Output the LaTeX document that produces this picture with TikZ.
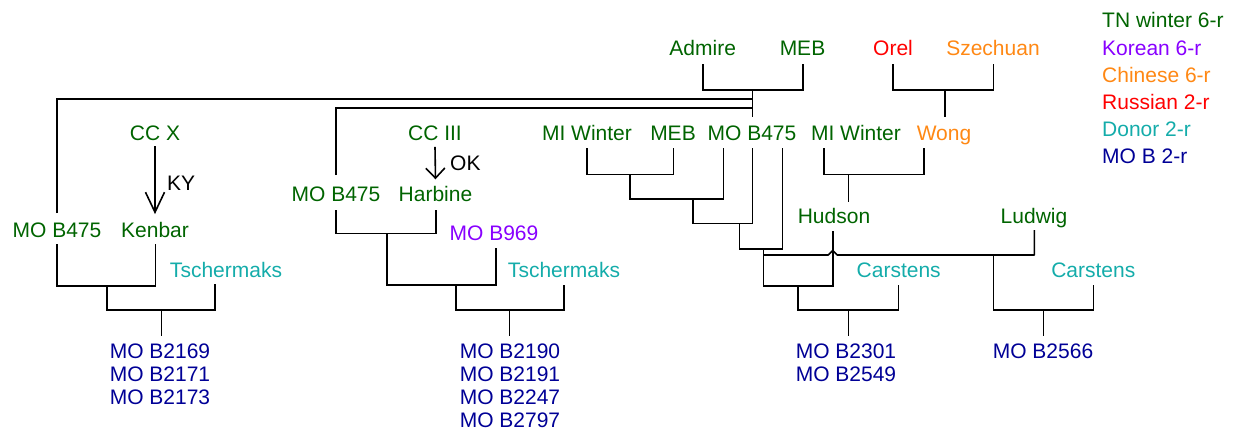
\documentclass[tikz,border=0pt]{standalone}
\usepackage{fontspec}
\setmainfont{Liberation Sans}
\usetikzlibrary{arrows.meta}
\definecolor{tn}{RGB}{0,100,0}
\definecolor{kor}{RGB}{136,0,255}
\definecolor{chi}{RGB}{255,136,20}
\definecolor{rus}{RGB}{255,0,0}
\definecolor{don}{RGB}{20,172,170}
\definecolor{mob}{RGB}{0,0,150}
\begin{document}
\begin{tikzpicture}[x=1pt,y=-1pt,
  lbl/.style={inner sep=0pt, anchor=base, font=\fontsize{21}{23}\selectfont},
  tnl/.style={lbl, text=tn},
  korl/.style={lbl, text=kor},
  chil/.style={lbl, text=chi},
  rusl/.style={lbl, text=rus},
  donl/.style={lbl, text=don},
  mobl/.style={lbl, text=mob, anchor=north, align=center},
  legl/.style={lbl, anchor=base west},
  ln/.style={line width=1.6pt, black},
]
\useasboundingbox (0,0) rectangle (1234,432);

% ---------- labels ----------
\node[tnl] (admire) at (702.7,55) {Admire};
\node[tnl] (meb1) at (802.5,55) {MEB};
\node[rusl] (orel) at (893,55) {Orel};
\node[chil] (szech) at (993,55) {Szechuan};

\node[tnl] (mi1) at (587,140) {MI Winter};
\node[tnl] (meb2) at (673,140) {MEB};
\node[tnl] (mo3) at (752,140) {MO B475};
\node[tnl] (mi2) at (856,140) {MI Winter};
\node[chil] (wong) at (944,140) {Wong};

\node[tnl] (ccx) at (155,140) {CC X};
\node[lbl, anchor=base west] (ky) at (167,190) {KY};
\node[tnl] (cc3) at (435,140) {CC III};
\node[lbl, anchor=base west] (ok) at (450,170.7) {OK};

\node[tnl] (mo2) at (336,201.7) {MO B475};
\node[tnl] (harb) at (435.5,201.7) {Harbine};
\node[tnl] (mo1) at (57,237.5) {MO B475};
\node[tnl] (ken) at (155,237.5) {Kenbar};
\node[korl] (b969) at (494,240.7) {MO B969};
\node[donl] (tsch1) at (226,277.5) {Tschermaks};
\node[donl] (tsch2) at (564,277.5) {Tschermaks};

\node[tnl] (hud) at (834,223.3) {Hudson};
\node[tnl] (lud) at (1034,223.3) {Ludwig};
\node[donl] (car1) at (898.7,277.5) {Carstens};
\node[donl] (car2) at (1093.3,277.5) {Carstens};

\node[mobl] (r1) at (160,344) {MO B2169\\MO B2171\\MO B2173};
\node[mobl] (r2) at (510,344) {MO B2190\\MO B2191\\MO B2247\\MO B2797};
\node[mobl] (r3) at (846,344) {MO B2301\\MO B2549};
\node[mobl] (r4) at (1043,344) {MO B2566};

% legend
\node[legl, text=tn] (lg1) at (1102,27.5) {TN winter 6-r};
\node[legl, text=kor] (lg2) at (1102,55) {Korean 6-r};
\node[legl, text=chi] (lg3) at (1102,82) {Chinese 6-r};
\node[legl, text=rus] (lg4) at (1102,109) {Russian 2-r};
\node[legl, text=don] (lg5) at (1102,136) {Donor 2-r};
\node[legl, text=mob] (lg6) at (1102,163.5) {MO B 2-r};

% ---------- junction coordinates ----------
\coordinate (aS) at (702.7,64.3);
\coordinate (mS) at (802.7,64.3);
\coordinate (hubT) at (752.3,90);
\coordinate (hubB) at (752.3,116.7);
\coordinate (l1R) at (752.3,99);
\coordinate (l1D) at (57,213);
\coordinate (l2R) at (752.3,107.7);
\coordinate (l2D) at (336,175);

\coordinate (t1a) at (57,244);
\coordinate (t1b) at (155.5,244);
\coordinate (t1c) at (106.7,285.7);
\coordinate (t1d) at (215,284.3);
\coordinate (t1e) at (161.5,310);
\coordinate (t1f) at (161.5,336);

\coordinate (t2a) at (336,210);
\coordinate (t2b) at (436,210);
\coordinate (t2c) at (386.7,233.3);
\coordinate (t2d) at (496,248.3);
\coordinate (t2e) at (456,285);
\coordinate (t2f) at (564,285);
\coordinate (t2g) at (509.3,310);
\coordinate (t2h) at (509.3,336);

\coordinate (t3a) at (586.7,148.3);
\coordinate (t3b) at (673.3,148.3);
\coordinate (t3c) at (630,174.3);
\coordinate (t3d) at (723.3,148.3);
\coordinate (t3e) at (692.7,199);
\coordinate (t3f) at (752.3,148.3);
\coordinate (t3g) at (739.3,223.3);
\coordinate (t3h) at (782.3,148.3);
\coordinate (t3i) at (763.3,249);

\coordinate (oS) at (892.7,64.3);
\coordinate (sS) at (993.3,64.3);
\coordinate (wT) at (945,90);
\coordinate (wB) at (945,116.7);
\coordinate (mw) at (824,148.3);
\coordinate (wg) at (924,148.3);
\coordinate (hT) at (848.3,174.3);
\coordinate (hB) at (848.3,201.7);

\coordinate (hs) at (832.7,231);
\coordinate (hsB) at (832.7,286);
\coordinate (c1) at (797.7,286);
\coordinate (cs1) at (898.3,285);
\coordinate (c1b) at (848.3,310);
\coordinate (c1e) at (848.3,336);

\coordinate (hopL) at (763.3,255);
\coordinate (hopA) at (828.2,255);
\coordinate (hopT) at (832.7,250.5);
\coordinate (hopB) at (837.2,255);
\coordinate (lj) at (993.3,255);
\coordinate (ludS) at (1034.3,230);
\coordinate (cs2) at (1093.3,285);
\coordinate (c2b) at (1043.3,310);
\coordinate (c2e) at (1043.3,336);

% ---------- connectors ----------
\draw[ln] (aS) |- (hubT) -| (mS);
\draw[ln] (hubT) -- (hubB);
\draw[ln] (l1D) |- (l1R);
\draw[ln] (l2D) |- (l2R);

\draw[ln, -{Straight Barb[length=20pt,width=19pt]}] ([yshift=-6pt]ccx.south) -- ([yshift=8pt]ken.north);
\draw[ln, -{Straight Barb[length=10pt,width=19pt]}] ([yshift=-6.5pt]cc3.south) -- ([yshift=7pt]harb.north);

\draw[ln] (t1a) |- (t1c) -| (t1b);
\draw[ln] (t1c) |- (t1e) -| (t1d);
\draw[ln] (t1e) -- (t1f);

\draw[ln] (t2a) |- (t2c) -| (t2b);
\draw[ln] (t2c) |- (t2e) -| (t2d);
\draw[ln] (t2e) |- (t2g) -| (t2f);
\draw[ln] (t2g) -- (t2h);

\draw[ln] (t3a) |- (t3c) -| (t3b);
\draw[ln] (t3c) |- (t3e) -| (t3d);
\draw[ln] (t3e) |- (t3g) -| (t3f);
\draw[ln] (t3g) |- (t3i) -| (t3h);

\draw[ln] (oS) |- (wT) -| (sS);
\draw[ln] (wT) -- (wB);
\draw[ln] (mw) |- (hT) -| (wg);
\draw[ln] (hT) -- (hB);

\draw[ln] (t3i) |- (c1) -- (hsB) -- (hs);
\draw[ln] (c1) |- (c1b) -| (cs1);
\draw[ln] (c1b) -- (c1e);

\draw[ln, line join=round] (hopL) -- (hopA) -- (hopT) -- (hopB) -- (lj) -| (ludS);
\draw[ln] (lj) |- (c2b) -| (cs2);
\draw[ln] (c2b) -- (c2e);
\end{tikzpicture}
\end{document}
